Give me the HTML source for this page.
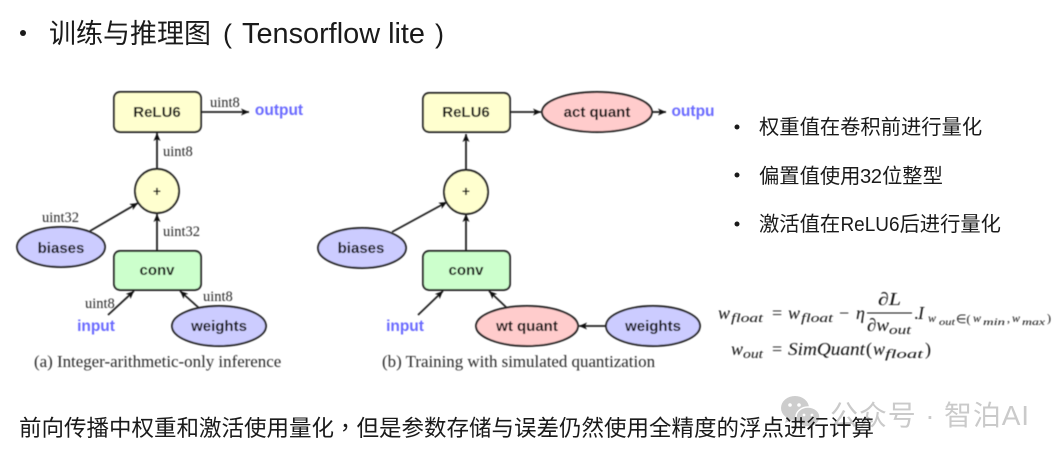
<!DOCTYPE html>
<html><head><meta charset="utf-8"><style>
html,body{margin:0;padding:0;background:#fff}
svg{display:block}
.z{font-family:"Liberation Sans","Noto Sans CJK SC",sans-serif;fill:#1a1a1a}
.n{font-family:"Liberation Sans",sans-serif;font-weight:bold;font-size:15px;fill:#0a0a0a;text-anchor:middle}
.b{font-family:"Liberation Sans",sans-serif;font-weight:bold;font-size:15.5px;fill:#6a6aff;text-anchor:middle}
.t{font-family:"Liberation Serif",serif;font-size:14.5px;fill:#2a2a2a}
.c{font-family:"Liberation Serif",serif;font-size:16.9px;fill:#2a2a2a}
.m{font-family:"Liberation Serif",serif;font-style:italic;fill:#111}
.u{font-family:"Liberation Serif",serif;fill:#111}
.s{stroke:#222;stroke-width:1.9}
.l{stroke:#222;stroke-width:1.8;fill:none;marker-end:url(#a)}
</style></head><body>
<svg width="1062" height="456" viewBox="0 0 1062 456" xmlns="http://www.w3.org/2000/svg">
<defs>
<marker id="a" markerUnits="userSpaceOnUse" markerWidth="10" markerHeight="8" refX="8" refY="4" orient="auto"><path d="M0 0.5L8 4L0 7.5L2 4Z" fill="#111"/></marker>
<filter id="bl"><feGaussianBlur stdDeviation="0.4"/></filter>
</defs>
<rect width="1062" height="456" fill="#fff"/>
<circle cx="23" cy="33" r="3" fill="#1a1a1a"/>
<text x="49" y="43" class="z" font-size="27">训练与推理图</text>
<text x="223" y="43" class="z" font-size="27">(</text>
<text x="242" y="43" class="z" font-size="29" textLength="183" lengthAdjust="spacingAndGlyphs">Tensorflow lite</text>
<text x="435" y="43" class="z" font-size="27">)</text>

<g filter="url(#bl)">
<!-- left -->
<line class="l" x1="157" y1="169" x2="157" y2="133"/>
<line class="l" x1="201" y1="112" x2="249" y2="112"/>
<line class="l" x1="90" y1="231" x2="138" y2="203"/>
<line class="l" x1="157" y1="251" x2="157" y2="214"/>
<line class="l" x1="108" y1="315" x2="134" y2="291"/>
<line class="l" x1="199" y1="308" x2="180" y2="291"/>
<rect class="s" x="114" y="92" width="87" height="40" rx="6" fill="#ffffcf"/>
<circle class="s" cx="157" cy="191" r="22" fill="#ffffcf"/>
<ellipse class="s" cx="61" cy="247" rx="44" ry="20" fill="#ccccff"/>
<rect class="s" x="114" y="251" width="87" height="39" rx="6" fill="#ccffcc"/>
<ellipse class="s" cx="219" cy="326" rx="47" ry="20" fill="#ccccff"/>
<text class="n" x="157" y="117">ReLU6</text>
<text class="n" x="157" y="196" style="font-size:14px">+</text>
<text class="n" x="61" y="253">biases</text>
<text class="n" x="157" y="275">conv</text>
<text class="n" x="219" y="331">weights</text>
<text class="b" x="279" y="115">output</text>
<text class="b" x="96" y="331">input</text>
<text class="t" x="210" y="107">uint8</text>
<text class="t" x="163" y="156">uint8</text>
<text class="t" x="42" y="222">uint32</text>
<text class="t" x="163" y="236">uint32</text>
<text class="t" x="85" y="308">uint8</text>
<text class="t" x="203" y="301">uint8</text>
<text class="c" x="34" y="367">(a) Integer-arithmetic-only inference</text>

<!-- right -->
<line class="l" x1="466" y1="170" x2="466" y2="134"/>
<line class="l" x1="510" y1="112" x2="541" y2="112"/>
<line class="l" x1="652" y1="112" x2="666" y2="112"/>
<line class="l" x1="392" y1="232" x2="447" y2="202"/>
<line class="l" x1="466" y1="251" x2="466" y2="214"/>
<line class="l" x1="418" y1="315" x2="443" y2="291"/>
<line class="l" x1="507" y1="308" x2="489" y2="291"/>
<line class="l" x1="606" y1="326" x2="579" y2="326"/>
<rect class="s" x="423" y="93" width="87" height="39" rx="6" fill="#ffffcf"/>
<ellipse class="s" cx="597" cy="112" rx="55" ry="20" fill="#ffcccc"/>
<circle class="s" cx="466" cy="192" r="22" fill="#ffffcf"/>
<ellipse class="s" cx="362" cy="248" rx="44" ry="20" fill="#ccccff"/>
<rect class="s" x="423" y="251" width="87" height="39" rx="6" fill="#ccffcc"/>
<ellipse class="s" cx="527" cy="326" rx="51" ry="20" fill="#ffcccc"/>
<ellipse class="s" cx="653" cy="326" rx="47" ry="20" fill="#ccccff"/>
<text class="n" x="466" y="117">ReLU6</text>
<text class="n" x="466" y="196" style="font-size:14px">+</text>
<text class="n" x="597" y="117">act quant</text>
<text class="n" x="361" y="253">biases</text>
<text class="n" x="466" y="275">conv</text>
<text class="n" x="527" y="331">wt quant</text>
<text class="n" x="653" y="331">weights</text>
<text class="b" x="693" y="116">outpu</text>
<text class="b" x="405" y="331">input</text>
<text class="c" x="382" y="367">(b) Training with simulated quantization</text>
</g>

<g class="z" font-size="20.3">
<circle cx="737" cy="127" r="2.5" fill="#1a1a1a"/>
<text x="759" y="134">权重值在卷积前进行量化</text>
<circle cx="737" cy="175" r="2.5" fill="#1a1a1a"/>
<text x="759" y="183">偏置值使用</text><text x="860" y="183" textLength="22">32</text><text x="882" y="183">位整型</text>
<circle cx="737" cy="224" r="2.5" fill="#1a1a1a"/>
<text x="759" y="231">激活值在</text><text x="840.5" y="231" textLength="59" lengthAdjust="spacingAndGlyphs">ReLU6</text><text x="899.5" y="231">后进行量化</text>
</g>

<!-- formula -->
<g filter="url(#bl)">
<text class="m" x="718" y="319" font-size="18">w</text><text class="m" x="731" y="322" font-size="13" textLength="32" lengthAdjust="spacingAndGlyphs">float</text>
<text class="u" x="772" y="319" font-size="18">=</text>
<text class="m" x="788" y="319" font-size="18">w</text><text class="m" x="801" y="322" font-size="13" textLength="32" lengthAdjust="spacingAndGlyphs">float</text>
<text class="u" x="839" y="319" font-size="18">−</text>
<text class="m" x="856" y="319" font-size="18">η</text>
<text class="m" x="878" y="305" font-size="18" textLength="23" lengthAdjust="spacingAndGlyphs">∂L</text>
<line x1="867" y1="313" x2="912" y2="313" stroke="#111" stroke-width="0.9"/>
<text class="m" x="867" y="331" font-size="18" textLength="22" lengthAdjust="spacingAndGlyphs">∂w</text><text class="m" x="889" y="334" font-size="13" textLength="22" lengthAdjust="spacingAndGlyphs">out</text>
<text class="u" x="914" y="319" font-size="18">.</text><text class="m" x="918" y="319" font-size="18">I</text>
<text class="m" x="928" y="322" font-size="12">w</text><text class="m" x="939" y="325" font-size="9.5" textLength="16" lengthAdjust="spacingAndGlyphs">out</text><text class="u" x="956" y="323" font-size="12">∈(</text><text class="m" x="973" y="322" font-size="12">w</text><text class="m" x="983" y="325" font-size="9.5" textLength="22" lengthAdjust="spacingAndGlyphs">min</text><text class="u" x="1007" y="322" font-size="12">,</text><text class="m" x="1012" y="322" font-size="12">w</text><text class="m" x="1022" y="325" font-size="9.5" textLength="23" lengthAdjust="spacingAndGlyphs">max</text><text class="u" x="1047" y="322" font-size="12">)</text>
<text class="m" x="731" y="355" font-size="18">w</text><text class="m" x="743" y="358" font-size="13" textLength="20" lengthAdjust="spacingAndGlyphs">out</text>
<text class="u" x="772" y="355" font-size="18">=</text>
<text class="m" x="788" y="355" font-size="18" textLength="77" lengthAdjust="spacingAndGlyphs">SimQuant</text>
<text class="u" x="866" y="355" font-size="18">(</text><text class="m" x="873" y="355" font-size="18">w</text><text class="m" x="885" y="358" font-size="13" textLength="38" lengthAdjust="spacingAndGlyphs">float</text><text class="u" x="925" y="355" font-size="18">)</text>
</g>

<!-- watermark -->
<g fill="#cdcdcd">
<ellipse cx="795" cy="408" rx="14" ry="12"/>
<path d="M787 417l-2 6 7-3z"/>
<ellipse cx="808" cy="417" rx="12" ry="10" stroke="#fff" stroke-width="1.5"/>
<circle cx="790" cy="405" r="1.8" fill="#fff"/><circle cx="799" cy="405" r="1.8" fill="#fff"/>
<circle cx="804" cy="415" r="1.4" fill="#fff"/><circle cx="812" cy="415" r="1.4" fill="#fff"/>
</g>
<text x="830" y="425" font-family="'Liberation Sans','Noto Sans CJK SC',sans-serif" font-size="28" fill="#cacaca" textLength="199">公众号 · 智泊AI</text>

<text x="19" y="436" class="z" font-size="22.5">前向传播中权重和激活使用量化<tspan font-family="'Noto Sans CJK TC',sans-serif">，</tspan>但是参数存储与误差仍然使用全精度的浮点进行计算</text>
</svg>
</body></html>
